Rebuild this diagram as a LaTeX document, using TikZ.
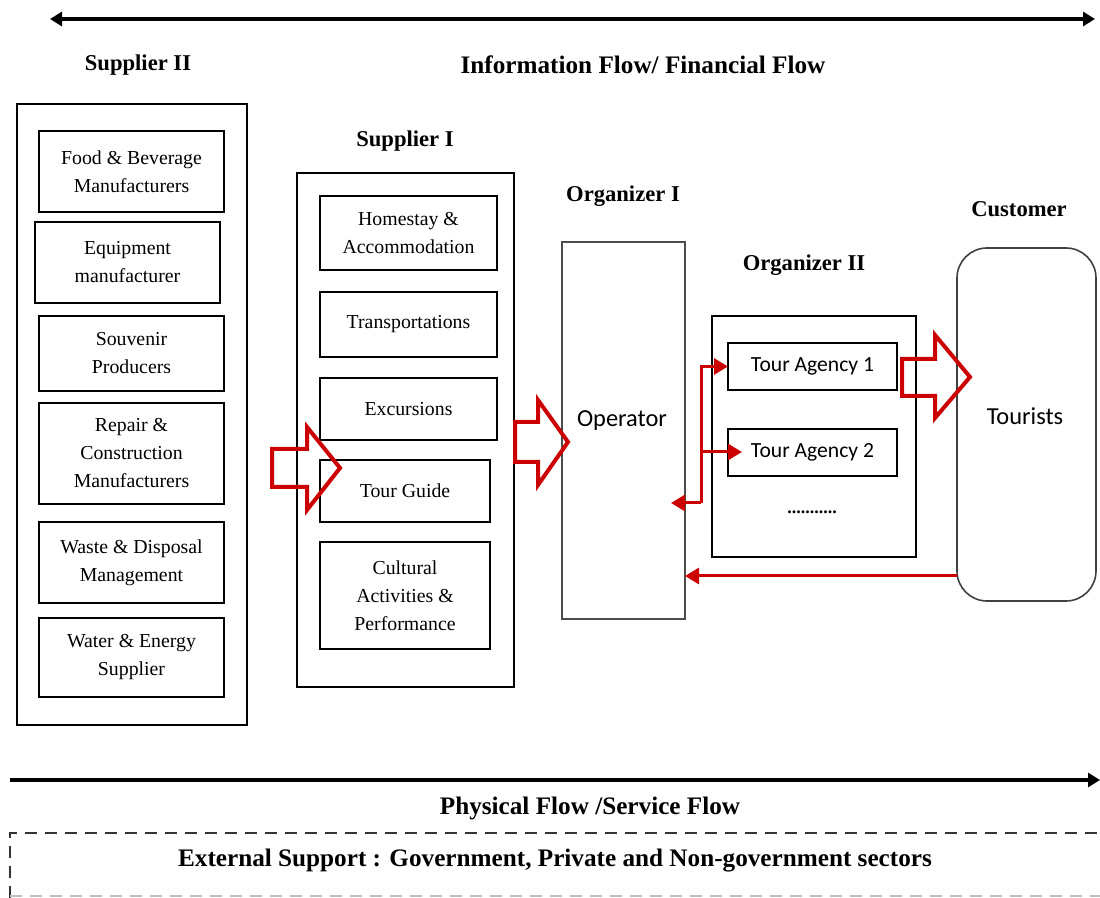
\documentclass[tikz,border=0pt]{standalone}
\usepackage{fontspec}
\setmainfont{Liberation Serif}
\newfontfamily\sansbody{Carlito}
\usetikzlibrary{arrows.meta}
\definecolor{flowred}{RGB}{204,0,0}
\begin{document}
\begin{tikzpicture}[x=0.5pt,y=-0.5pt,
  every node/.style={inner sep=0pt,outer sep=0pt},
  title/.style={font=\fontsize{12.6}{14}\selectfont\bfseries},
  heading/.style={font=\fontsize{11.3}{13}\selectfont\bfseries},
  item/.style={draw=black,line width=1.1pt,align=center,
    font=\fontsize{9.9}{14}\selectfont},
  group/.style={draw=black,line width=1.1pt},
  sanslabel/.style={font=\sansbody\fontsize{10.8}{12}\selectfont},
  biglabel/.style={font=\sansbody\fontsize{12.2}{14}\selectfont},
  blockarrow/.style={draw=flowred,line width=2pt,line join=miter},
  thinflow/.style={draw=flowred,line width=1.5pt,-{Triangle[length=7pt,width=8pt]}},
  mainflow/.style={line width=2pt}]
\useasboundingbox (0,0) rectangle (1100,898);

% flow arrows across the whole chain
\coordinate (infoL) at (50,19);
\coordinate (infoR) at (1095,19);
\draw[mainflow,{Triangle[length=6pt,width=7pt]}-{Triangle[length=6pt,width=7pt]}] (infoL) -- (infoR);
\coordinate (physL) at (10,780);
\coordinate (physR) at (1100,780);
\draw[mainflow,-{Triangle[length=6pt,width=7pt]}] (physL) -- (physR);

% headings
\node[heading] (tS2) at (138,65) {Supplier II};
\node[title] (tInfo) at (643,65) {Information Flow/ Financial Flow};
\node[heading] (tS1) at (405,141) {Supplier I};
\node[heading] (tO1) at (623,196) {Organizer I};
\node[heading] (tO2) at (804,265) {Organizer II};
\node[heading] (tCus) at (1019,209) {Customer};
\node[title] (tPhys) at (590,808) {Physical Flow /Service Flow};

% Supplier II
\draw[group] (17,104) rectangle (247,725);
\node[item,minimum width=92.5pt,minimum height=40.5pt] (fb) at (131.5,171.5) {Food \& Beverage\\Manufacturers};
\node[item,minimum width=92.5pt,minimum height=40.5pt] (eq) at (127.5,262.5) {Equipment\\manufacturer};
\node[item,minimum width=92.5pt,minimum height=37.5pt] (sv) at (131.5,353.5) {Souvenir\\Producers};
\node[item,minimum width=92.5pt,minimum height=50.5pt] (rc) at (131.5,453.5) {Repair \&\\Construction\\Manufacturers};
\node[item,minimum width=92.5pt,minimum height=40.5pt] (wd) at (131.5,562.5) {Waste \& Disposal\\Management};
\node[item,minimum width=92.5pt,minimum height=39.5pt] (we) at (131.5,657.5) {Water \& Energy\\Supplier};

% Supplier I
\draw[group] (297,173) rectangle (514,687);
\node[item,minimum width=88.5pt,minimum height=37pt] (hs) at (408.5,233) {Homestay \&\\Accommodation};
\node[item,minimum width=88.5pt,minimum height=32.5pt] (tr) at (408.5,324.5) {Transportations};
\node[item,minimum width=88.5pt,minimum height=31pt] (ex) at (408.5,409) {Excursions};
\node[item,minimum width=85pt,minimum height=31pt] (tg) at (405,491) {Tour Guide};
\node[item,minimum width=85pt,minimum height=53.5pt] (ca) at (405,595.5) {Cultural\\Activities \&\\Performance};

% Organizer I
\node[draw=black!70,line width=0.6pt,minimum width=61.5pt,minimum height=188.5pt] (op) at (623.5,430.5) {};
\node[biglabel] (opl) at (622,421) {Operator};

% Organizer II
\draw[group] (712,316) rectangle (916,557);
\node[item,sanslabel,minimum width=84.5pt,minimum height=23.5pt] (ta1) at (812.5,366.5) {Tour Agency 1};
\node[item,sanslabel,minimum width=84.5pt,minimum height=23.5pt] (ta2) at (812.5,452.5) {Tour Agency 2};
\node[font=\bfseries\fontsize{9}{10}\selectfont] (more) at (812,512) {...........};

% Customer
\node[draw=black!75,line width=0.8pt,rounded corners=15pt,minimum width=69.5pt,minimum height=176.5pt] (tou) at (1026.5,424.5) {};
\node[biglabel] (toul) at (1025,416) {Tourists};

% block arrows of the service flow
\draw[blockarrow] (272,449) -- (307,449) -- (307,427) -- (340,468) -- (307,510) -- (307,487) -- (272,487) -- cycle;
\draw[blockarrow] (515,422) -- (538,422) -- (538,400) -- (568,442) -- (538,485) -- (538,462) -- (515,462) -- cycle;
\draw[blockarrow] (902,359) -- (935,359) -- (935,335) -- (970,377) -- (935,418) -- (935,396) -- (902,396) -- cycle;

% information links between operator, agencies and tourists
\coordinate (split) at (701,503);
\coordinate (ta2in) at (742,452);
\coordinate (opin) at (671,503);
\draw[thinflow] (split) |- (ta1.west);
\draw[thinflow] (split |- ta2in) -- (ta2in);
\draw[thinflow] (split) -- (opin);
\coordinate (touout) at (957,576);
\coordinate (opback) at (685,576);
\draw[thinflow] (touout) -- (opback);

% external support
\draw[dashed,line width=1pt,dash pattern=on 6pt off 4pt,black!80] (10,898) -- (10,833) -- (1100,833);
\draw[dashed,line width=1pt,dash pattern=on 6pt off 4pt,black!25] (10,896) -- (1100,896);
\node[title] (ext) at (555,861) {External Support : Government, Private and Non-government sectors};
\end{tikzpicture}
\end{document}
